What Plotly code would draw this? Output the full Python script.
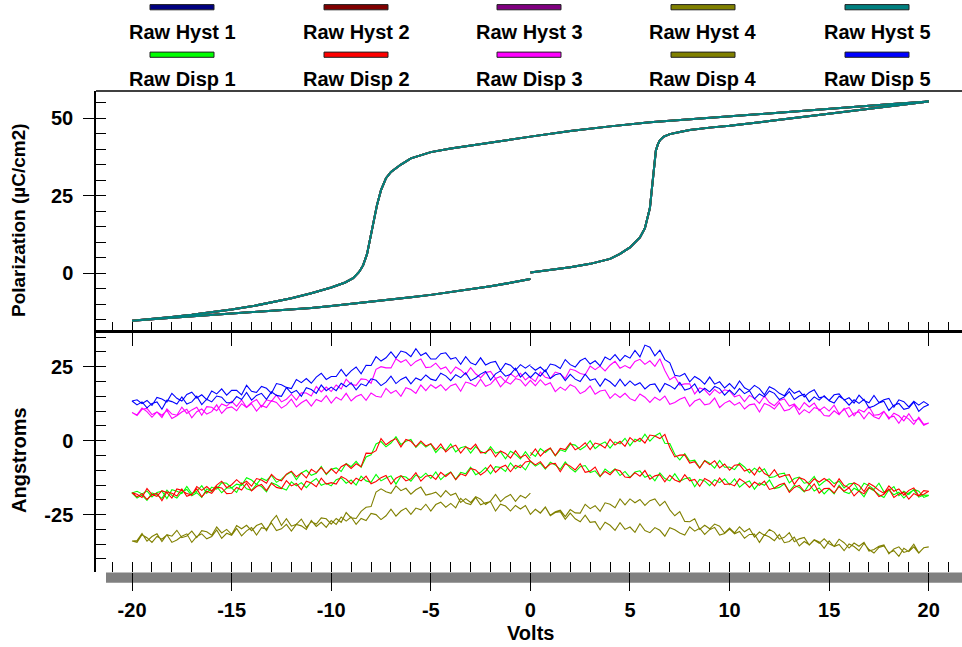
import plotly.graph_objects as go

# ---------------- Hysteresis (Polarization vs Volts) ----------------
hyst_volts = [0, 1, 2, 3, 4, 4.5, 5, 5.5, 5.75, 6,
              6.1, 6.2, 6.3, 6.4, 6.5, 6.7, 7, 7.5, 8, 9,
              10, 12, 14, 16, 18, 20,
              18, 16, 14, 12, 10, 8, 6, 4, 2, 0,
              -2, -4, -5, -6, -6.5, -7, -7.25, -7.5, -7.7, -7.9,
              -8.0, -8.2, -8.4, -8.6, -8.9, -9.3, -10, -11, -12, -13,
              -14, -15, -16, -17, -18, -19, -20,
              -19, -18, -17, -16, -15, -14, -13, -12, -11, -10,
              -9, -8, -7, -6, -5, -4, -3, -2, -1, 0]

hyst_pol_1 = [0.2, 1.0, 1.9, 3.0, 4.6, 6.2, 8.3, 11.5, 14.5, 21.0,
              28.0, 34.0, 39.5, 41.5, 42.8, 44.0, 44.8, 45.5, 46.1, 46.9,
              47.5, 49.0, 50.6, 52.2, 53.8, 55.3,
              54.4, 53.4, 52.4, 51.4, 50.5, 49.6, 48.6, 47.3, 45.8, 44.0,
              42.2, 40.2, 39.0, 37.0, 35.0, 32.6, 30.6, 26.8, 22.0, 15.5,
              12.3, 6.2, 2.5, 0.4, -1.6, -3.0, -4.6, -6.5, -8.1, -9.5,
              -10.7, -11.7, -12.6, -13.4, -14.1, -14.75, -15.3,
              -14.85, -14.4, -13.95, -13.5, -13.05, -12.6, -12.2, -11.75, -11.2, -10.6,
              -9.95, -9.25, -8.55, -7.8, -7.0, -6.1, -5.2, -4.2, -3.1, -1.9]
# the five hysteresis loops lie on top of each other in the picture
hyst_pol_2 = list(hyst_pol_1)
hyst_pol_3 = list(hyst_pol_1)
hyst_pol_4 = list(hyst_pol_1)
hyst_pol_5 = list(hyst_pol_1)

hyst_names = ["Raw Hyst 1", "Raw Hyst 2", "Raw Hyst 3", "Raw Hyst 4", "Raw Hyst 5"]
hyst_colors = ["#000080", "#800000", "#800080", "#808000", "#008080"]

# ---------------- Displacement (Angstroms vs Volts) ----------------
# sweep: 0 -> +20, +20 -> -20, -20 -> 0
disp_volts_up = [
    0, 0.25, 0.5, 0.75, 1, 1.25, 1.5, 1.75, 2, 2.25, 2.5, 2.75, 3, 3.25, 3.5, 3.75, 4, 4.25, 4.5, 4.75,
    5, 5.25, 5.5, 5.75, 6, 6.25, 6.5, 6.75, 7, 7.25, 7.5, 7.75, 8, 8.25, 8.5, 8.75, 9, 9.25, 9.5, 9.75,
    10, 10.25, 10.5, 10.75, 11, 11.25, 11.5, 11.75, 12, 12.25, 12.5, 12.75, 13, 13.25, 13.5, 13.75, 14, 14.25, 14.5, 14.75,
    15, 15.25, 15.5, 15.75, 16, 16.25, 16.5, 16.75, 17, 17.25, 17.5, 17.75, 18, 18.25, 18.5, 18.75, 19, 19.25, 19.5, 19.75,
    20]
disp_volts_down = [
    19.75, 19.5, 19.25, 19, 18.75, 18.5, 18.25, 18, 17.75, 17.5, 17.25, 17, 16.75, 16.5, 16.25, 16, 15.75, 15.5, 15.25, 15,
    14.75, 14.5, 14.25, 14, 13.75, 13.5, 13.25, 13, 12.75, 12.5, 12.25, 12, 11.75, 11.5, 11.25, 11, 10.75, 10.5, 10.25, 10,
    9.75, 9.5, 9.25, 9, 8.75, 8.5, 8.25, 8, 7.75, 7.5, 7.25, 7, 6.75, 6.5, 6.25, 6, 5.75, 5.5, 5.25, 5,
    4.75, 4.5, 4.25, 4, 3.75, 3.5, 3.25, 3, 2.75, 2.5, 2.25, 2, 1.75, 1.5, 1.25, 1, 0.75, 0.5, 0.25, 0,
    -0.25, -0.5, -0.75, -1, -1.25, -1.5, -1.75, -2, -2.25, -2.5, -2.75, -3, -3.25, -3.5, -3.75, -4, -4.25, -4.5, -4.75, -5,
    -5.25, -5.5, -5.75, -6, -6.25, -6.5, -6.75, -7, -7.25, -7.5, -7.75, -8, -8.25, -8.5, -8.75, -9, -9.25, -9.5, -9.75, -10,
    -10.25, -10.5, -10.75, -11, -11.25, -11.5, -11.75, -12, -12.25, -12.5, -12.75, -13, -13.25, -13.5, -13.75, -14, -14.25, -14.5, -14.75, -15,
    -15.25, -15.5, -15.75, -16, -16.25, -16.5, -16.75, -17, -17.25, -17.5, -17.75, -18, -18.25, -18.5, -18.75, -19, -19.25, -19.5, -19.75, -20]
disp_volts_back = [
    -19.75, -19.5, -19.25, -19, -18.75, -18.5, -18.25, -18, -17.75, -17.5, -17.25, -17, -16.75, -16.5, -16.25, -16, -15.75, -15.5, -15.25, -15,
    -14.75, -14.5, -14.25, -14, -13.75, -13.5, -13.25, -13, -12.75, -12.5, -12.25, -12, -11.75, -11.5, -11.25, -11, -10.75, -10.5, -10.25, -10,
    -9.75, -9.5, -9.25, -9, -8.75, -8.5, -8.25, -8, -7.75, -7.5, -7.25, -7, -6.75, -6.5, -6.25, -6, -5.75, -5.5, -5.25, -5,
    -4.75, -4.5, -4.25, -4, -3.75, -3.5, -3.25, -3, -2.75, -2.5, -2.25, -2, -1.75, -1.5, -1.25, -1, -0.75, -0.5, -0.25, 0]

# Raw Disp 1 (green)
disp1_up = [
    -4.0, -5.3, -2.7, -4.0, -2.6, -5.1, -3.1, -3.7, -1.2, -1.5, -3.1, -2.0, 0.0, -2.7, -1.3, -0.4, -2.5, -0.4, -1.1, 0.8,
    -1.7, 0.5, -0.3, 2.2, -0.2, 1.6, 2.6, -0.9, -1.0, -4.6, -6.5, -4.4, -6.9, -6.6, -9.2, -6.7, -7.6, -9.3, -6.7, -9.0,
    -8.9, -9.8, -7.6, -8.9, -10.9, -9.3, -10.6, -9.5, -12.5, -12.2, -11.3, -11.0, -14.3, -12.8, -12.3, -14.4, -14.0, -12.1, -15.2, -13.8,
    -12.9, -14.5, -13.7, -16.0, -14.6, -14.4, -17.1, -14.4, -15.2, -16.5, -14.4, -17.3, -16.9, -15.5, -18.6, -17.1, -18.2, -16.5, -17.1, -19.2,
    -18.5]
disp1_down = [
    -18.4, -19.1, -16.7, -17.7, -19.4, -17.4, -18.3, -16.6, -19.2, -18.3, -16.9, -16.0, -19.0, -17.0, -16.1, -17.9, -17.3, -15.1, -18.0, -16.3,
    -18.0, -16.0, -17.0, -14.7, -17.3, -15.8, -15.1, -17.1, -14.6, -15.8, -16.2, -13.3, -15.1, -14.3, -16.4, -13.6, -14.3, -15.7, -12.9, -14.9,
    -12.9, -14.2, -13.2, -15.2, -13.6, -13.1, -15.6, -12.5, -12.9, -13.7, -11.2, -13.6, -12.8, -10.9, -13.6, -11.6, -12.4, -10.2, -10.6, -12.4,
    -10.4, -11.8, -9.5, -10.9, -9.6, -12.2, -10.2, -10.8, -8.4, -8.8, -10.6, -9.3, -7.2, -9.7, -8.2, -7.3, -9.6, -7.6, -8.6, -7.0,
    -9.9, -8.2, -9.5, -7.5, -10.4, -9.1, -8.8, -11.2, -9.1, -10.7, -11.5, -9.0, -11.2, -10.7, -13.1, -10.6, -11.6, -13.2, -10.6, -12.8,
    -11.0, -12.5, -11.6, -13.7, -12.3, -12.0, -14.7, -11.9, -12.6, -13.6, -11.4, -14.1, -13.6, -12.0, -15.0, -13.3, -14.4, -12.6, -13.2, -15.3,
    -14.4, -15.1, -12.8, -14.0, -15.9, -14.2, -15.3, -13.9, -16.7, -16.0, -14.9, -14.2, -17.3, -15.5, -14.8, -16.8, -16.3, -14.3, -17.5, -16.0,
    -16.0, -17.6, -15.5, -17.2, -16.3, -19.2, -17.6, -18.6, -16.5, -17.3, -19.4, -18.5, -16.7, -19.5, -18.3, -17.7, -20.2, -18.4, -19.4, -17.7]
disp1_back = [
    -17.1, -18.0, -17.0, -19.0, -17.5, -17.1, -19.6, -16.6, -17.1, -17.9, -15.5, -17.9, -17.1, -15.2, -17.8, -15.7, -16.4, -14.2, -14.4, -16.0,
    -14.7, -15.1, -12.5, -13.3, -14.8, -12.7, -13.5, -11.7, -14.1, -13.0, -11.5, -10.5, -13.2, -10.9, -10.0, -11.7, -11.0, -8.7, -11.5, -9.7,
    -9.2, -10.4, -7.7, -8.8, -7.0, -9.0, -5.5, -4.8, -1.1, -0.3, -2.1, -0.8, 1.3, -1.3, -0.2, 0.4, -2.3, -0.6, -2.2, -1.1,
    -4.0, -2.2, -3.3, -1.1, -3.8, -2.4, -1.9, -4.2, -2.0, -3.6, -4.4, -2.0, -4.2, -3.7, -6.1, -3.6, -4.6, -6.2, -3.7, -6.0]

# Raw Disp 2 (red)
disp2_up = [
    -5.1, -2.8, -5.2, -3.5, -2.5, -5.0, -2.6, -3.0, -0.8, -3.1, -2.2, -0.7, -3.0, -0.8, -1.3, -2.5, 0.5, -1.5, -0.2, -1.9,
    1.0, -0.4, 0.8, -0.8, 1.9, 1.6, 0.7, 2.1, -2.3, -5.5, -4.9, -4.8, -7.6, -7.1, -9.3, -6.8, -8.1, -6.8, -9.2, -7.9,
    -10.0, -8.3, -8.1, -10.3, -9.6, -11.6, -9.0, -11.1, -12.0, -9.8, -12.4, -11.8, -11.5, -14.8, -12.5, -13.1, -14.8, -12.9, -14.0, -12.8,
    -13.9, -15.7, -12.9, -15.2, -15.9, -14.2, -15.1, -17.2, -14.4, -15.4, -16.8, -17.8, -15.3, -17.1, -16.3, -18.4, -16.8, -16.0, -18.6, -18.1,
    -17.1]
disp2_down = [
    -16.9, -18.7, -17.9, -19.8, -17.4, -18.0, -19.2, -16.3, -18.1, -18.9, -16.7, -15.8, -18.0, -17.0, -18.7, -15.9, -17.1, -15.5, -17.7, -16.1,
    -16.2, -17.7, -14.6, -16.6, -17.1, -15.1, -15.8, -17.5, -14.4, -14.9, -16.0, -16.5, -13.7, -15.1, -14.0, -15.8, -14.0, -12.9, -15.3, -14.6,
    -14.8, -12.6, -15.3, -13.7, -12.8, -15.4, -13.1, -13.6, -11.5, -14.0, -13.3, -11.7, -13.9, -11.5, -11.9, -13.0, -10.1, -12.0, -10.8, -12.5,
    -12.3, -10.2, -9.7, -11.5, -10.4, -12.0, -8.9, -10.3, -10.7, -7.8, -9.9, -8.6, -7.8, -10.5, -7.7, -7.9, -9.3, -7.1, -8.2, -6.9,
    -7.2, -9.1, -8.4, -10.5, -8.3, -9.1, -10.7, -8.2, -10.4, -11.6, -9.9, -9.4, -11.9, -11.2, -13.2, -10.7, -12.1, -10.7, -13.1, -11.7,
    -12.0, -13.7, -10.8, -12.9, -13.6, -11.8, -12.7, -14.7, -11.8, -12.5, -13.8, -14.6, -12.0, -13.6, -12.7, -14.6, -13.0, -12.1, -14.7, -14.2,
    -14.7, -12.7, -15.6, -14.3, -13.7, -16.6, -14.5, -15.3, -13.5, -16.2, -15.8, -14.4, -16.9, -14.8, -15.5, -17.0, -14.4, -16.7, -15.8, -17.8,
    -17.9, -16.0, -15.7, -17.8, -17.1, -19.0, -16.3, -18.1, -18.8, -16.3, -18.7, -17.8, -17.3, -20.3, -17.8, -18.3, -19.9, -17.9, -19.0, -17.6]
disp2_back = [
    -18.1, -19.2, -16.2, -18.2, -18.8, -16.9, -17.6, -19.4, -16.3, -16.8, -17.9, -18.4, -15.5, -16.8, -15.5, -17.0, -15.0, -13.7, -15.9, -14.9,
    -13.2, -14.7, -13.7, -15.4, -12.8, -13.3, -14.4, -11.4, -13.0, -13.6, -11.3, -10.3, -12.2, -10.9, -12.6, -9.7, -10.8, -9.1, -11.2, -9.5,
    -11.1, -8.8, -7.9, -9.4, -7.8, -8.8, -4.2, -4.3, -3.4, 0.7, -1.4, -0.1, 0.7, -2.1, 0.4, -0.2, -2.0, -0.1, -1.8, -1.0,
    -3.1, -1.1, -3.8, -2.3, -1.5, -4.2, -2.1, -2.9, -1.2, -4.1, -3.9, -2.8, -5.5, -3.5, -4.3, -5.9, -3.4, -5.7, -4.8, -6.9]

# Raw Disp 3 (magenta)
disp3_up = [
    21.3, 20.0, 23.2, 21.4, 21.0, 23.2, 22.6, 21.0, 24.2, 23.7, 22.7, 22.3, 25.2, 24.0, 25.2, 23.6, 25.5, 26.8, 24.5, 25.4,
    24.5, 26.8, 27.5, 25.8, 27.0, 25.1, 27.7, 23.7, 20.6, 21.7, 18.8, 19.2, 19.2, 15.8, 17.8, 17.2, 15.4, 17.3, 16.0, 17.2,
    16.8, 14.8, 15.4, 13.2, 15.3, 14.3, 12.6, 15.1, 12.9, 11.8, 13.6, 14.1, 11.7, 12.4, 10.4, 12.9, 11.4, 12.7, 10.1, 11.4,
    10.0, 12.0, 9.1, 10.5, 11.2, 8.4, 10.5, 9.7, 11.5, 8.6, 8.8, 9.9, 7.3, 9.3, 8.4, 6.7, 9.1, 6.6, 7.4, 5.2,
    6.0]
disp3_down = [
    5.5, 7.9, 5.5, 7.3, 8.4, 5.9, 8.3, 7.8, 9.9, 7.4, 8.1, 9.6, 7.4, 9.7, 9.3, 8.0, 10.9, 8.8, 10.1, 8.3,
    8.5, 10.6, 11.2, 9.4, 10.5, 8.9, 12.0, 10.5, 10.1, 12.8, 10.7, 11.9, 12.6, 9.7, 12.4, 12.1, 10.7, 12.9, 12.0, 13.5,
    12.7, 11.2, 14.4, 12.5, 12.1, 14.1, 13.4, 11.6, 14.7, 14.0, 12.9, 12.3, 15.1, 13.6, 14.7, 12.9, 14.7, 15.8, 13.5, 14.2,
    16.0, 14.6, 15.9, 14.3, 17.1, 16.8, 15.7, 18.5, 16.8, 15.9, 18.1, 18.9, 17.0, 18.1, 16.6, 19.6, 18.8, 20.6, 18.6, 20.4,
    18.5, 20.5, 21.0, 19.1, 20.0, 18.2, 21.0, 19.1, 18.4, 20.8, 18.4, 19.3, 19.8, 16.7, 19.2, 18.6, 17.0, 18.9, 17.7, 18.9,
    16.9, 18.8, 16.0, 17.3, 17.9, 15.0, 17.0, 16.0, 17.7, 14.7, 15.0, 16.1, 13.6, 15.6, 14.9, 13.4, 16.0, 13.7, 14.7, 12.7,
    15.2, 13.2, 13.9, 11.7, 13.8, 12.8, 11.4, 14.0, 12.1, 11.0, 12.9, 13.5, 11.2, 11.9, 10.0, 12.5, 11.2, 12.5, 10.1, 11.4,
    11.0, 9.2, 12.1, 9.8, 9.0, 10.7, 9.8, 7.7, 10.6, 9.7, 8.4, 7.5, 10.2, 8.6, 9.7, 7.9, 9.8, 11.0, 8.7, 9.5]
disp3_back = [
    8.5, 10.6, 10.9, 8.8, 9.7, 7.8, 10.7, 9.0, 8.6, 11.3, 9.2, 10.4, 11.3, 8.6, 11.5, 11.3, 10.1, 12.4, 11.7, 13.3,
    11.6, 13.8, 11.3, 12.9, 13.9, 11.4, 13.8, 13.3, 15.5, 13.1, 14.0, 15.7, 13.7, 16.2, 16.1, 15.1, 18.3, 16.5, 18.1, 16.6,
    18.8, 17.5, 20.8, 19.0, 18.7, 20.9, 20.7, 19.4, 24.1, 25.0, 24.6, 24.6, 27.7, 26.5, 27.4, 25.3, 26.8, 27.6, 24.7, 24.9,
    26.2, 24.2, 24.9, 22.7, 24.9, 23.9, 22.3, 24.7, 22.6, 21.3, 23.0, 23.4, 21.0, 21.7, 19.9, 22.6, 21.4, 22.8, 20.5, 21.9]

# Raw Disp 4 (olive)
disp4_up = [
    -24.9, -23.2, -24.4, -22.4, -25.2, -24.0, -23.5, -25.7, -23.3, -24.4, -24.5, -21.5, -23.0, -22.0, -23.9, -21.0, -21.5, -22.7, -19.7, -21.7,
    -19.7, -21.0, -19.9, -21.9, -20.3, -19.7, -22.0, -20.5, -23.4, -25.4, -24.0, -27.3, -27.4, -26.4, -30.0, -28.6, -29.8, -28.2, -28.9, -31.2,
    -29.5, -31.2, -29.1, -30.8, -29.7, -32.6, -30.9, -32.0, -30.0, -31.0, -33.3, -32.7, -31.1, -34.2, -33.2, -32.7, -35.3, -33.6, -34.7, -33.2,
    -34.9, -35.7, -33.3, -34.5, -36.3, -34.6, -35.7, -34.4, -37.3, -36.8, -35.7, -35.2, -38.3, -36.6, -35.9, -37.8, -37.2, -35.0, -37.9, -36.2,
    -35.9]
disp4_down = [
    -36.2, -38.0, -35.9, -37.5, -36.4, -39.1, -37.2, -37.9, -35.6, -36.1, -38.0, -36.8, -34.7, -37.2, -35.8, -34.9, -37.2, -35.1, -35.8, -33.9,
    -36.4, -34.2, -33.5, -35.2, -34.1, -35.6, -32.6, -34.1, -34.5, -31.7, -33.8, -32.6, -31.8, -34.4, -31.6, -31.7, -33.0, -30.7, -31.5, -29.9,
    -31.4, -31.9, -29.3, -30.1, -31.7, -29.6, -30.6, -29.1, -31.9, -31.2, -30.1, -29.4, -32.3, -30.3, -29.4, -31.1, -30.4, -28.1, -31.0, -29.2,
    -30.0, -27.7, -30.3, -28.6, -27.6, -30.1, -27.4, -27.6, -25.2, -27.4, -26.4, -24.5, -26.6, -24.0, -24.3, -25.4, -22.5, -24.5, -23.2, -24.9,
    -21.9, -23.1, -21.9, -23.8, -22.1, -21.5, -23.8, -20.6, -21.0, -21.7, -19.2, -21.6, -21.1, -19.5, -22.7, -21.2, -22.5, -20.8, -21.6, -23.8,
    -21.5, -23.4, -22.8, -24.9, -22.8, -23.8, -25.5, -23.2, -25.4, -26.7, -25.0, -24.6, -27.0, -26.3, -28.3, -25.8, -27.2, -25.8, -28.3, -27.0,
    -29.3, -27.6, -29.0, -27.0, -30.0, -28.8, -28.3, -30.6, -28.3, -29.8, -30.4, -27.8, -29.9, -29.4, -31.9, -29.4, -30.5, -32.2, -29.7, -32.0,
    -31.3, -33.0, -30.2, -32.4, -33.2, -31.5, -32.4, -34.4, -31.5, -32.3, -33.6, -34.4, -31.8, -33.3, -32.4, -34.4, -32.8, -31.8, -34.4, -33.9]
disp4_back = [
    -33.8, -31.4, -34.0, -32.4, -31.5, -34.1, -31.8, -32.3, -30.3, -32.8, -32.2, -30.6, -32.8, -30.4, -30.8, -32.0, -29.2, -31.2, -30.0, -31.7,
    -28.7, -29.8, -28.6, -30.4, -28.7, -28.0, -30.4, -27.3, -25.3, -28.7, -26.4, -28.9, -28.3, -26.5, -29.3, -27.4, -28.2, -26.1, -26.4, -28.2,
    -26.3, -27.6, -24.3, -26.1, -26.3, -23.9, -22.5, -22.3, -17.4, -16.3, -17.3, -17.8, -15.3, -16.9, -16.1, -18.1, -16.6, -15.7, -18.4, -18.0,
    -17.4, -19.0, -16.9, -18.5, -17.8, -20.9, -19.6, -20.9, -18.9, -19.8, -21.6, -20.4, -18.2, -20.6, -19.1, -18.2, -20.5, -18.5, -19.4, -17.7]

# Raw Disp 5 (blue)
disp5_up = [
    25.2, 23.8, 24.9, 23.3, 25.9, 25.5, 24.4, 27.4, 25.7, 24.9, 27.0, 27.9, 25.9, 27.0, 25.3, 28.3, 27.3, 29.1, 27.0, 28.8,
    27.9, 30.5, 28.3, 32.3, 31.6, 28.7, 30.6, 27.4, 26.3, 22.1, 21.8, 22.7, 19.9, 21.7, 20.7, 19.1, 21.5, 19.1, 19.9, 17.8,
    19.3, 17.5, 20.2, 17.9, 17.0, 18.7, 17.6, 15.5, 18.2, 17.4, 16.0, 15.2, 17.7, 16.0, 16.8, 14.8, 16.3, 17.2, 14.5, 14.9,
    13.6, 15.5, 15.8, 13.7, 14.5, 12.7, 15.4, 13.6, 12.8, 15.3, 12.9, 13.8, 14.3, 11.3, 13.8, 13.2, 11.4, 13.3, 12.0, 13.2,
    12.1]
disp5_down = [
    11.4, 9.9, 13.0, 11.0, 10.6, 12.6, 12.0, 10.2, 13.3, 12.7, 11.7, 11.1, 14.0, 12.6, 13.8, 12.0, 13.9, 15.0, 12.7, 13.5,
    15.2, 13.7, 14.8, 13.1, 15.7, 15.1, 13.9, 16.6, 14.8, 13.9, 16.0, 16.8, 14.8, 15.8, 14.1, 16.9, 15.9, 17.6, 15.5, 17.1,
    15.4, 17.6, 18.3, 16.5, 17.7, 16.2, 19.2, 17.6, 17.1, 19.7, 17.5, 18.6, 19.3, 16.5, 19.2, 18.9, 17.5, 19.6, 18.7, 20.2,
    18.5, 20.8, 18.3, 19.9, 20.9, 18.4, 20.9, 20.4, 22.5, 20.0, 20.8, 22.4, 20.3, 22.7, 22.3, 21.0, 23.9, 21.8, 23.1, 21.3,
    23.1, 21.5, 24.5, 22.4, 21.8, 23.6, 22.6, 20.5, 23.4, 22.5, 21.2, 20.3, 22.9, 21.3, 22.3, 20.3, 21.9, 22.8, 20.3, 20.8,
    22.2, 20.4, 21.2, 19.2, 21.5, 20.7, 19.3, 21.8, 19.8, 18.6, 20.4, 20.9, 18.5, 19.2, 17.2, 19.6, 18.2, 19.4, 16.9, 18.1,
    16.9, 18.8, 16.0, 17.3, 17.9, 15.0, 17.0, 16.1, 17.9, 15.0, 15.3, 16.5, 14.0, 16.0, 15.3, 13.7, 16.3, 13.9, 14.9, 12.8,
    12.8, 14.7, 15.1, 13.1, 14.0, 12.2, 15.0, 13.1, 12.4, 14.8, 12.4, 13.2, 13.7, 10.6, 13.1, 12.6, 11.1, 13.1, 12.1, 13.4]
disp5_back = [
    13.8, 12.5, 13.6, 11.9, 14.6, 14.1, 13.1, 16.0, 14.3, 13.4, 15.6, 16.4, 14.4, 15.5, 13.9, 16.8, 15.8, 17.5, 15.4, 17.0,
    17.0, 15.5, 18.7, 16.7, 16.3, 18.3, 17.7, 16.0, 19.3, 18.9, 18.0, 17.6, 20.7, 19.6, 21.0, 19.4, 21.5, 22.8, 20.7, 21.7,
    21.7, 24.1, 21.8, 23.6, 24.9, 22.6, 25.5, 25.4, 28.4, 26.9, 28.0, 30.0, 27.9, 30.3, 29.8, 28.4, 31.1, 28.8, 29.7, 27.6,
    27.6, 29.4, 29.7, 27.6, 28.1, 25.8, 28.4, 26.3, 25.6, 28.0, 25.6, 26.4, 26.8, 23.7, 26.1, 25.5, 23.8, 25.7, 24.5, 25.7]

disp_names = ["Raw Disp 1", "Raw Disp 2", "Raw Disp 3", "Raw Disp 4", "Raw Disp 5"]
disp_colors = ["#00FF00", "#FF0000", "#FF00FF", "#808000", "#0000FF"]

x_tick_vals = [-20, -15, -10, -5, 0, 5, 10, 15, 20]
x_tick_text = ["-20", "-15", "-10", "-5", "0", "5", "10", "15", "20"]
y1_tick_vals = [0, 25, 50]
y1_tick_text = ["0", "25", "50"]
y2_tick_vals = [-25, 0, 25]
y2_tick_text = ["-25", "0", "25"]

# ---------------- assemble ----------------
disp_volts = disp_volts_up + disp_volts_down + disp_volts_back
disp_series = [disp1_up + disp1_down + disp1_back,
               disp2_up + disp2_down + disp2_back,
               disp3_up + disp3_down + disp3_back,
               disp4_up + disp4_down + disp4_back,
               disp5_up + disp5_down + disp5_back]
hyst_series = [hyst_pol_1, hyst_pol_2, hyst_pol_3, hyst_pol_4, hyst_pol_5]

for s in hyst_series:
    if len(s) != len(hyst_volts):
        raise ValueError("hyst length %d vs %d" % (len(s), len(hyst_volts)))
for i, s in enumerate(disp_series):
    if len(s) != len(disp_volts):
        raise ValueError("disp %d length %d vs %d" % (i + 1, len(s), len(disp_volts)))

FONT = "Liberation Sans, Arial, Helvetica, sans-serif"

fig = go.Figure()
for name, col, pol in zip(hyst_names, hyst_colors, hyst_series):
    fig.add_trace(go.Scatter(x=hyst_volts, y=pol, mode="lines", name=name,
                             line=dict(color=col, width=2), xaxis="x", yaxis="y",
                             showlegend=False))
for name, col, d in zip(disp_names, disp_colors, disp_series):
    fig.add_trace(go.Scatter(x=disp_volts, y=d, mode="lines", name=name,
                             line=dict(color=col, width=1.1), xaxis="x2", yaxis="y2",
                             showlegend=False))

# ---------------- layout geometry (pixels) ----------------
W, H = 962, 647
L, R, T, B = 96, 0, 91, 75
PW, PH = W - L - R, H - T - B


def px_x(px):
    return (px - L) / PW


def px_y(py):
    return (H - B - py) / PH


tickfont = dict(family=FONT, size=20, color="black", weight="bold")
minor_x = dict(ticks="inside", ticklen=10, tickwidth=1, tickcolor="black", dtick=1, tick0=0, showgrid=False)
minor_y = dict(ticks="inside", ticklen=10, tickwidth=1, tickcolor="black", dtick=5, tick0=0, showgrid=False)

common_x = dict(range=[-21.81, 21.67], tickmode="array", tickvals=x_tick_vals, ticktext=x_tick_text,
                tickwidth=1, tickcolor="black", showgrid=False, zeroline=False,
                showline=False, minor=minor_x)
common_y = dict(tickmode="array", ticks="outside", ticklen=11, tickwidth=1, tickcolor="black",
                minor=minor_y, showline=True, linewidth=1.5, linecolor="black",
                showgrid=False, zeroline=False, tickfont=tickfont, ticklabelstandoff=6)

fig.update_layout(
    width=W, height=H,
    margin=dict(l=L, r=R, t=T, b=B, autoexpand=False),
    paper_bgcolor="white", plot_bgcolor="white",
    showlegend=False,
    xaxis=dict(domain=[0, 1], anchor="y", ticks="outside", ticklen=13,
               showticklabels=False, **common_x),
    xaxis2=dict(domain=[0, 1], anchor="y2", ticks="outside", ticklen=18,
                showticklabels=True, tickfont=tickfont, ticklabelstandoff=2,
                **common_x),
    yaxis=dict(domain=[0.5, 1], anchor="x", range=[-18.8, 58.7],
               tickvals=y1_tick_vals, ticktext=y1_tick_text, **common_y),
    yaxis2=dict(domain=[0, 0.5], anchor="x2", range=[-44.4, 36.9],
                tickvals=y2_tick_vals, ticktext=y2_tick_text, **common_y),
)

shapes = [
    dict(type="line", xref="paper", yref="paper", x0=0, x1=1, y0=1, y1=1,
         line=dict(color="black", width=1.5)),
    dict(type="line", xref="paper", yref="paper", x0=0, x1=1, y0=0.5, y1=0.5,
         line=dict(color="black", width=3)),
    dict(type="rect", xref="paper", yref="paper", layer="below",
         x0=px_x(106), x1=1, y0=px_y(582.7), y1=px_y(572.5),
         fillcolor="#808080", line=dict(width=0)),
]

annotations = []
legend_cols = [182, 356, 529, 703, 877]
legend_font = dict(family=FONT, size=20, color="black", weight="bold")
for row, (names, cols) in enumerate([(hyst_names, hyst_colors), (disp_names, disp_colors)]):
    sw_y = 7.2 + row * 47.5
    txt_y = 32 + row * 47.5
    for cx, nm, col in zip(legend_cols, names, cols):
        shapes.append(dict(type="rect", xref="paper", yref="paper",
                           x0=px_x(cx - 32), x1=px_x(cx + 32),
                           y0=px_y(sw_y + 2.6), y1=px_y(sw_y - 2.6),
                           fillcolor=col, line=dict(color="#202020", width=1)))
        annotations.append(dict(text=nm, xref="paper", yref="paper",
                                x=px_x(cx), y=px_y(txt_y), xanchor="center", yanchor="middle",
                                showarrow=False, font=legend_font))

title_font = dict(family=FONT, size=20, color="black", weight="bold")
annotations.append(dict(text="Polarization (µC/cm2)", xref="paper", yref="paper",
                        x=px_x(19), y=px_y(220), textangle=-90, showarrow=False,
                        xanchor="center", yanchor="middle",
                        font=dict(family=FONT, size=19, color="black", weight="bold")))
annotations.append(dict(text="Angstroms", xref="paper", yref="paper",
                        x=px_x(19), y=px_y(460), textangle=-90, showarrow=False,
                        xanchor="center", yanchor="middle", font=title_font))
annotations.append(dict(text="Volts", xref="paper", yref="paper",
                        x=px_x(530), y=px_y(633), showarrow=False,
                        xanchor="center", yanchor="middle", font=title_font))

fig.update_layout(shapes=shapes, annotations=annotations)

fig.write_html("out.html",
               config={"displayModeBar": False},
               post_script="document.body.style.margin='0';"
                           "document.documentElement.style.margin='0';"
                           "document.body.style.overflow='hidden';")
